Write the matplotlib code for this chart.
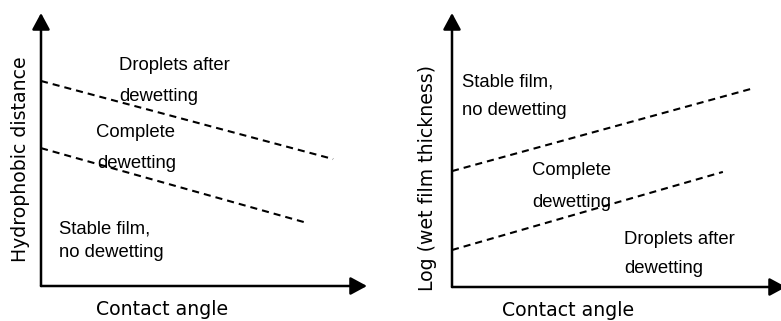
import matplotlib.pyplot as plt

# regime boundaries (axes units: 0 = origin, 1 = arrow tip)
left_upper_x = [0.0, 0.896]
left_upper_y = [0.751, 0.465]
left_lower_x = [0.0, 0.807]
left_lower_y = [0.505, 0.234]

right_upper_x = [0.0, 0.904]
right_upper_y = [0.423, 0.726]
right_lower_x = [0.0, 0.811]
right_lower_y = [0.135, 0.420]

left_ylabel = "Hydrophobic distance"
right_ylabel = "Log (wet film thickness)"
xlabel = "Contact angle"

fig = plt.figure(figsize=(7.81, 3.21), dpi=100)
ax1 = fig.add_axes([41/781, 35/321, 326/781, 273/321])
ax2 = fig.add_axes([452/781, 34/321, 334/781, 274/321])

arrow = dict(arrowstyle='-|>,head_length=0.5,head_width=0.27', color='black',
             lw=1.8, mutation_scale=20, shrinkA=0, shrinkB=0)
region_font = dict(family='Liberation Sans', fontsize=13.3, va='baseline', ha='left')
label_font = dict(family='DejaVu Sans', fontsize=13.6)

for ax in (ax1, ax2):
    ax.set_xlim(0, 1)
    ax.set_ylim(0, 1)
    ax.axis('off')
    ax.annotate('', xy=(0, 1), xytext=(0, 0), arrowprops=arrow, annotation_clip=False)
    ax.annotate('', xy=(1, 0), xytext=(0, 0), arrowprops=arrow, annotation_clip=False)

dash = dict(color='black', lw=1.5, dashes=(3.4, 2.4), clip_on=False)
ax1.plot(left_upper_x, left_upper_y, **dash)
ax1.plot(left_lower_x, left_lower_y, **dash)
ax2.plot(right_upper_x, right_upper_y, **dash)
ax2.plot(right_lower_x, right_lower_y, **dash)

# left panel labels
ax1.text(0.239, 0.791, "Droplets after", **region_font)
ax1.text(0.239, 0.678, "dewetting", **region_font)
ax1.text(0.169, 0.546, "Complete", **region_font)
ax1.text(0.172, 0.432, "dewetting", **region_font)
ax1.text(0.055, 0.194, "Stable film,", **region_font)
ax1.text(0.055, 0.106, "no dewetting", **region_font)

# right panel labels
ax2.text(0.030, 0.730, "Stable film,", **region_font)
ax2.text(0.030, 0.628, "no dewetting", **region_font)
ax2.text(0.240, 0.409, "Complete", **region_font)
ax2.text(0.240, 0.292, "dewetting", **region_font)
ax2.text(0.515, 0.157, "Droplets after", **region_font)
ax2.text(0.515, 0.051, "dewetting", **region_font)

ax1.text(0.371, -0.106, xlabel, ha='center', va='baseline', clip_on=False, **label_font)
ax1.text(-0.064, 0.465, left_ylabel, ha='center', va='center', rotation=90,
         clip_on=False, **label_font)
ax2.text(0.347, -0.106, xlabel, ha='center', va='baseline', clip_on=False, **label_font)
ax2.text(-0.072, 0.398, right_ylabel, ha='center', va='center', rotation=90,
         clip_on=False, **label_font)

fig.savefig('out.png', dpi=100)
